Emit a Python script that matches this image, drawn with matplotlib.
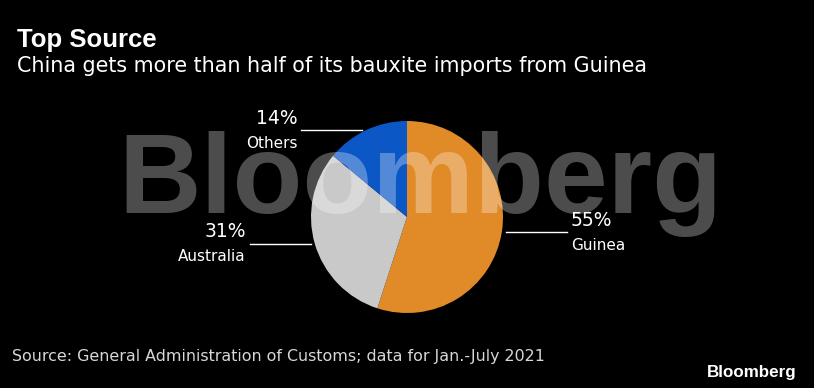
"""
pie chart of where China gets its bauxite, dark Bloomberg style
"""

import numpy as np
import matplotlib
matplotlib.use('Agg')
import matplotlib.pyplot as plt

# data
countries = ['Guinea', 'Australia', 'Others']
shares = [55, 31, 14]
colours = ['#e08a28', '#c9c9c9', '#0b57c6']

TITLE = 'Top Source'
SUBTITLE = 'China gets more than half of its bauxite imports from Guinea'
SOURCE = 'Source: General Administration of Customs; data for Jan.-July 2021'

W, H = 814, 388
BG = '#000000'

plt.rcParams['font.family'] = ['DejaVu Sans']

fig = plt.figure(figsize=(W / 100, H / 100), dpi=100, facecolor=BG)
ax = fig.add_axes([0, 0, 1, 1])
ax.set_facecolor(BG)
renderer = fig.canvas.get_renderer()


def fit_width(txt, width):
    """
        rescales a text so that it is width pixels wide
    """
    ext = txt.get_window_extent(renderer)
    txt.set_fontsize(txt.get_fontsize() * width / ext.width)


# pie, starting at 12 o'clock and going clockwise
cx, cy, r = 407, H - 217, 96
wedges, _ = ax.pie(shares, colors=colours, startangle=90, counterclock=False,
                   center=(cx, cy), radius=r, frame=True,
                   wedgeprops=dict(linewidth=0))
ax.set_xlim(0, W)
ax.set_ylim(0, H)
ax.set_aspect('equal')
ax.axis('off')

# watermark over the pie
mark = ax.text(118, H - 213, 'Bloomberg', family='Liberation Sans',
               weight='bold', fontsize=82, color='white', alpha=0.3,
               ha='left', va='baseline', zorder=5)
fit_width(mark, 604)

# labels with short horizontal leader lines
for w, name, share in zip(wedges, countries, shares):
    mid = np.deg2rad((w.theta1 + w.theta2) / 2)
    x0 = cx + r * np.cos(mid)
    y0 = cy + r * np.sin(mid)
    side = 1 if np.cos(mid) > 0 else -1
    x1 = x0 + side * 65
    ax.plot([x0 + side * 4, x1], [y0, y0], color='white', lw=1, zorder=6)
    ha = 'left' if side > 0 else 'right'
    tx = x1 + side * 4
    ax.text(tx, y0 + 12, f'{share}%', color='white', fontsize=13.5,
            ha=ha, va='center', zorder=6)
    ax.text(tx, y0 - 13, name, color='white', fontsize=11,
            ha=ha, va='center', zorder=6)

# titles and footer
title = ax.text(17, H - 40, TITLE, color='white', fontsize=16,
                family=['Liberation Sans', 'DejaVu Sans'], weight='bold',
                ha='left', va='center')
fit_width(title, 140)
sub = ax.text(17, H - 66, SUBTITLE, color='white', fontsize=18,
              ha='left', va='center')
fit_width(sub, 632)
src = ax.text(12, H - 357, SOURCE, color='#d8d8d8', fontsize=13,
              ha='left', va='center')
fit_width(src, 532)
logo = ax.text(797, H - 372, 'Bloomberg', family='Liberation Sans',
               weight='bold', color='white', fontsize=12, ha='right',
               va='center')
fit_width(logo, 89)

plt.savefig('out.png', dpi=100, facecolor=BG)
